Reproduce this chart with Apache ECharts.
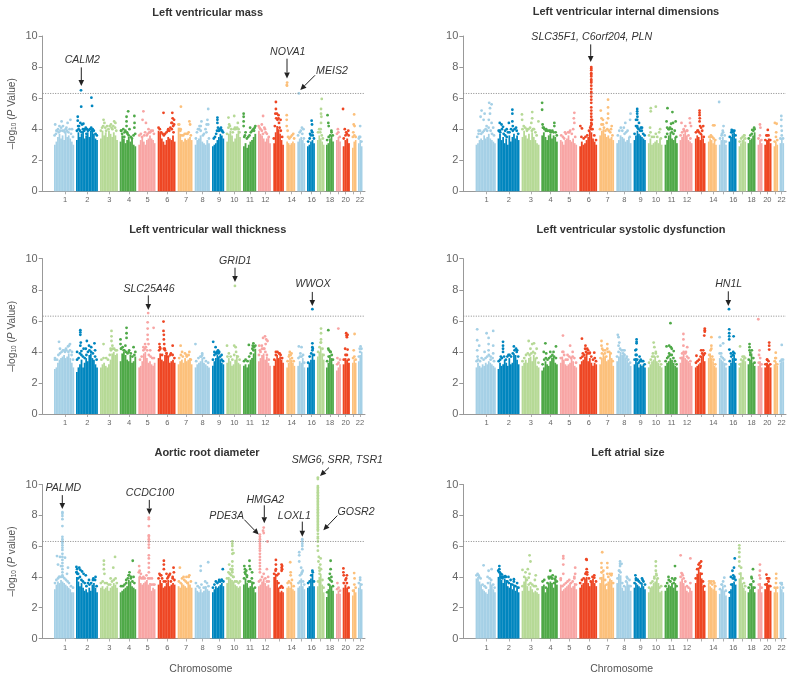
<!DOCTYPE html>
<html><head><meta charset="utf-8">
<style>html,body{margin:0;padding:0;background:#fff}#c{width:800px;height:676px}</style>
<script src="https://cdn.jsdelivr.net/npm/echarts@6/dist/echarts.min.js"></script>
</head><body><div id="c"></div>
<script>
// x unit is one horizontal step along the genome axis
const chromStart=[11.3,33.3,57.3,77,95.6,115,135,152,169.3,183.6,200.3,215.3,230.6,243.6,254.6,264.3,274.3,283.3,293.3,300,309.3,315.3];
const chromEnd=[31.3,55,75,93.3,112.6,132.6,149.6,167,181.3,198,213.3,228,241,252.3,262.3,272,281.6,291,298,307,313.6,319.6];
const chromTick=[22.3,44.6,66.6,86.3,105,124.6,143.3,160,176.3,191.6,207.3,222.6,236.6,249,259,269,278,287.3,295.6,303,310.6,317.3];
const chromLabel=['1','2','3','4','5','6','7','8','9','10','11','12','','14','','16','','18','','20','','22'];
const chromColors=['#a5d0e6','#0086bf','#b6d996','#4fa948','#f8a5a4','#ee4623','#fcc07b'];
const yTicks=[0,2,4,6,8,10];
const threshold=6.3;

const titles=['Left ventricular mass','Left ventricular internal dimensions','Left ventricular wall thickness','Left ventricular systolic dysfunction','Aortic root diameter','Left atrial size'];

const massLVM=[[3.0,3.2,3.5,3.7,3.4,3.6,3.3,3.8,3.5,3.6,3.4,3.2,3.0],[3.3,3.8,3.5,3.7,3.9,3.4,3.6,3.8,3.5,3.9,4.0,3.7,3.4,3.3],[3.4,3.9,3.6,3.8,3.5,3.9,3.7,3.5,3.8,3.6,3.3],[3.2,3.6,3.4,3.1,3.3,3.5,3.2,3.4,3.0,2.9],[3.0,3.3,3.5,3.2,3.0,3.3,3.4,3.6,3.4,3.3,3.1],[3.9,3.8,3.4,3.2,3.0,3.3,3.5,3.4,3.3,3.6,3.2],[4.1,3.7,3.3,3.2,3.4,3.3,3.4,3.5,3.3],[3.0,3.3,3.4,3.6,3.2,3.1,3.0,3.3,3.1],[2.9,3.0,3.1,3.3,3.5,3.7,3.6,3.4],[3.2,3.7,3.9,3.6,3.2,3.4,3.7,3.9,3.5],[2.9,3.1,2.8,3.0,3.2,3.3,3.5,3.7],[3.9,3.7,3.6,3.4,3.2,3.4,3.5,3.1],[3.1,3.8,4.2,4.0,3.7,3.3,3.0],[3.2,3.1,3.0,3.1,3.2,3.1],[3.2,3.4,3.5,3.3,3.1],[2.9,3.0,3.2,3.3,3.1],[3.3,3.6,3.4,3.2,3.0],[3.0,3.1,3.4,3.6,3.2],[3.3,3.5,3.2],[2.9,3.3,3.4,3.1],[2.8,3.2,3.3],[3.1,3.3,2.9]];
const dotsLVM=[[6,4.3,12,3.9,20,4.0,27,4.2,38,4.5,45,4.2,50,3.9,62,4.1,68,4.4,82,4.6,90,4.0],[8,4.8,8,4.55,10,4.2,14,4.2,20,4.4,23,6.5,24,5.45,28,4.3,34,4.35,45,4.1,50,4.0,71,6.03,74,5.5,60,3.95,77,4.0],[20,4.6,25,4.4,40,4.2,62,4.3,80,4.5,87,4.4,70,4.0],[52,5.15,42,4.8,42,4.5,42,4.2,60,4.0,90,4.85,91,4.4,90,4.1,10,3.9,30,3.8,45,3.8],[30,5.15,25,4.6,45,4.4,60,4.0,75,3.9],[33,5.05,83,5.05,85,4.7,82,4.4,88,4.2,78,4.4,93,4.6,93,4.3,60,4.0],[22,5.45,80,4.5,85,4.3,10,4.3,20,4.0],[90,5.3,85,4.6,80,4.3,90,4.3,45,4.5,40,4.2,30,4.0],[45,4.75,45,4.6,45,4.4,70,4.0,50,4.1,55,3.9,80,3.9],[15,4.75,55,4.85,80,4.4,20,4.3,60,4.1],[5,5.0,5,4.8,5,4.5,5,4.2,55,4.1,95,4.2,20,3.8,85,3.9],[40,4.85,30,4.3,50,4.1,55,4.0],[25,5.75,25,5.3,20,5.0,35,5.0,50,4.9,50,4.7,70,4.6],[5,4.9,5,4.6,5,4.2,15,3.9,10,7.0,8,6.8,6,6.85],[20,6.3,60,4.1,80,4.0],[60,4.55,65,4.3,60,3.9,70,3.8,40,3.7],[65,5.95,55,5.3,55,5.0,60,4.8,55,4.4,50,4.0],[20,4.9,30,4.4,35,4.2,70,3.9],[40,4.0],[5,5.3,30,4.0,50,3.8,80,3.9],[50,4.95,40,4.3,60,4.2,30,3.8],[50,4.2,30,3.5]];
const bandLVM=[[3,3.6,10,3.7,16,3.9,24,3.8,32,3.9,36,4.1,42,3.9,55,3.8,58,4.0,65,3.9,72,3.8,78,4.0,85,3.7,95,3.5],[4,3.9,12,4.0,18,3.9,26,3.8,32,4.0,38,3.9,42,4.0,48,3.7,55,3.9,65,4.0,70,4.1,75,3.9,82,3.9,90,3.7,96,3.6],[5,3.9,12,4.1,18,4.2,30,4.1,35,3.9,48,4.0,55,4.2,65,4.1,75,4.2,85,4.1,92,3.9],[8,3.9,15,3.7,22,4.0,28,3.5,35,3.9,48,3.7,55,3.6,68,3.5,75,3.4,85,3.6,95,3.7],[6,3.6,15,3.7,22,3.5,35,3.6,40,3.8,50,3.6,55,3.7,65,3.8,70,3.8,85,3.9,92,3.7],[5,4.1,12,4.0,20,3.8,28,3.7,35,3.6,42,3.7,50,3.8,58,3.9,66,3.9,72,4.1,80,4.0,90,3.8],[5,4.3,12,4.0,18,3.9,28,3.6,38,3.6,48,3.7,58,3.7,68,3.7,75,3.8,90,3.6],[8,3.4,15,3.8,22,4.0,32,4.2,40,3.9,55,3.6,62,3.7,72,4.0,78,3.8,95,3.4],[15,3.4,25,3.5,35,3.7,42,3.9,58,3.9,65,4.0,75,4.1,85,3.9,92,3.8],[5,3.7,15,4.1,25,4.2,35,4.0,45,3.8,55,4.0,65,4.0,75,4.1,85,4.0,92,3.8],[10,3.5,15,3.6,30,3.4,40,3.5,50,3.6,60,3.8,70,3.9,80,4.0,90,4.1],[5,4.2,12,4.1,20,4.0,30,3.9,40,3.7,60,3.8,70,3.7,85,3.5],[5,3.4,15,4.2,28,4.7,40,4.6,55,4.4,60,4.1,72,3.9,85,3.5],[20,3.5,35,3.4,50,3.5,65,3.6,80,3.7,90,3.4],[10,3.6,30,3.8,45,3.9,65,3.7,85,3.4],[15,3.2,35,3.4,50,3.6,75,3.6,90,3.4],[15,3.8,30,4.0,45,3.8,65,3.6,80,3.4],[15,3.3,35,3.5,55,3.6,72,3.8,88,3.6],[20,3.7,50,3.8,80,3.5],[15,3.4,40,3.6,60,3.7,85,3.6],[20,3.5,55,3.6,85,3.5],[20,3.4,50,3.5,80,3.2]];
const notesLVM=[['CALM2',39.6,8.44,38.6,7.98,38.6,6.78],['NOVA1',245,8.99,244.3,8.54,244.3,7.27],['MEIS2',289.3,7.77,272.3,7.47,257.6,6.52]];

const massLVID=[[3.0,3.1,3.3,3.4,3.3,3.6,3.4,3.5,3.7,3.4,3.3,3.2,3.1],[3.4,3.7,3.3,3.5,3.1,3.4,3.0,3.6,3.2,3.5,3.7,3.4,3.6,3.3],[3.5,3.9,3.6,3.4,3.7,3.3,3.8,3.5,3.3,3.1,3.0],[3.6,3.8,3.5,3.3,3.6,3.7,3.4,3.6,3.5,3.2],[3.3,3.2,3.0,3.3,3.4,3.6,3.3,3.2,3.4,3.1,3.0],[2.9,3.2,3.0,3.1,3.3,3.5,3.9,3.8,3.4,3.2,3.0],[3.6,3.9,4.0,3.7,3.5,3.6,3.4,3.5,3.3],[3.1,3.3,3.6,3.5,3.4,3.2,3.3,3.5,3.1],[3.3,3.6,3.9,3.7,3.6,3.5,3.4,3.3],[3.1,3.4,3.0,3.1,3.2,3.3,3.1,3.4,3.0],[3.0,3.3,3.6,3.8,3.4,3.3,3.5,3.1],[3.3,3.5,3.7,3.9,3.6,3.3,3.2,3.1],[3.4,3.6,3.5,3.3,3.7,3.4,3.1],[3.2,3.4,3.3,3.1,3.3,3.0],[3.0,3.3,3.5,3.3,3.0],[3.2,3.5,3.7,3.8,3.4],[2.9,3.1,3.3,3.4,3.2],[3.1,3.3,3.4,3.6,3.8],[3.0,3.3,3.1],[3.0,3.3,3.4,3.1],[2.9,3.2,3.0],[3.1,3.4,3.1]];
const dotsLVID=[[30,5.2,25,4.8,40,4.6,45,5.0,68,5.7,72,5.35,80,5.6,72,5.0,66,4.6,80,4.4,15,3.9,55,4.2,88,4.1],[10,4.4,18,4.3,25,4.15,42,4.0,52,4.4,68,5.25,68,5.0,68,4.5,70,4.2,85,4.1,35,3.9,10,3.9],[2,4.95,3,4.6,60,5.1,60,4.7,95,4.5,30,4.0,55,4.4,70,4.0],[5,5.7,5,5.25,8,4.3,15,4.1,30,4.0,80,4.2,80,4.4,55,3.9],[85,5.05,82,4.7,85,4.4,60,3.9,30,3.8,78,4.0],[6,4.2,15,4.05,68,8.0,68,7.9,68,7.8,68,7.6,68,7.5,68,7.4,68,7.2,68,7.1,68,7.0,68,6.8,68,6.6,68,6.4,68,6.3,68,6.1,68,5.9,68,5.7,68,5.4,68,5.2,68,5.0,68,4.8,68,4.6,72,4.6,68,4.4,70,4.3,66,4.2,68,4.0],[10,5.2,60,5.9,60,5.4,60,5.0,60,4.7,15,4.7,25,4.6,50,4.4,80,4.0,85,4.2],[95,5.0,92,4.6,60,4.4,50,4.1],[30,5.3,30,5.15,30,5.0,32,4.8,30,4.6,20,4.6,45,4.4,60,4.1,70,4.1,30,4.2],[20,5.35,20,5.15,55,5.45,85,4.0,15,4.1],[22,5.35,60,5.1,15,4.5,65,4.4,50,4.35,85,4.5,20,4.1,35,4.0,55,4.0],[15,4.4,80,4.7,82,4.4,60,3.9,90,4.2,35,3.9],[45,5.2,45,5.05,45,4.9,47,4.7,45,4.5,50,4.2,60,4.1,80,4.2,30,3.9],[60,4.25,75,4.25,30,3.5],[3,5.75,60,4.2,50,3.9,40,3.7],[40,3.95,50,3.8],[80,3.6],[60,3.95,85,4.1],[50,4.3,60,4.1],[50,3.95,30,3.6],[30,4.4,70,4.35,60,3.8],[40,4.85,40,4.6,40,4.2,50,3.9]];
const bandLVID=[[8,3.5,15,3.7,22,3.9,28,3.7,35,3.8,42,3.9,50,4.0,58,3.9,65,4.1,75,3.9,82,3.7,92,3.6],[5,3.9,12,3.8,20,4.0,28,3.7,35,3.6,42,3.5,48,3.8,55,3.8,62,4.0,70,3.9,78,4.0,88,3.9,95,3.7],[5,4.0,12,4.2,20,4.1,30,3.9,38,4.0,48,4.1,58,3.9,65,4.0,78,3.8,85,3.6],[10,4.1,20,4.0,28,3.9,38,3.9,48,3.9,58,3.8,68,3.9,75,3.8,88,3.8,95,3.6],[8,3.6,18,3.5,25,3.4,35,3.7,48,3.8,55,3.8,70,3.7,90,3.5],[12,3.5,25,3.4,35,3.5,45,3.6,55,3.9,62,4.1,75,4.0,85,3.6,95,3.3],[5,4.0,15,4.3,25,4.3,32,4.1,42,3.9,55,4.0,65,3.9,75,3.8,90,3.6],[10,3.6,20,3.9,30,4.1,40,3.9,55,3.7,65,3.8,75,3.9,90,3.5],[8,3.7,20,4.2,32,4.1,42,4.0,55,3.9,68,3.9,80,3.7,92,3.6],[8,3.6,18,3.8,28,3.5,42,3.5,55,3.7,65,3.5,78,3.8,90,3.4],[8,3.5,20,3.7,30,4.0,42,4.1,55,3.8,68,3.7,78,3.9,90,3.5],[8,3.6,20,3.8,32,4.0,45,4.2,58,3.9,70,3.6,85,3.4],[10,3.8,25,3.9,40,3.8,55,3.7,70,3.9,85,3.5],[15,3.5,35,3.6,50,3.5,65,3.4,85,3.3],[15,3.4,35,3.6,55,3.8,75,3.6,90,3.2],[15,3.5,35,3.8,55,3.9,75,3.9,90,3.6],[15,3.2,35,3.4,55,3.5,75,3.6,90,3.4],[15,3.4,35,3.6,55,3.7,75,3.9,90,4.0],[20,3.4,50,3.6,80,3.3],[15,3.3,40,3.6,60,3.6,85,3.3],[25,3.2,55,3.5,85,3.3],[20,3.4,50,3.6,80,3.4]];
const notesLVID=[['SLC35F1, C6orf204, PLN',127.4,9.92,126.4,9.46,126.4,8.33]];

const massLVWT=[[2.9,3.0,3.3,3.5,3.6,3.7,3.8,3.6,3.7,3.9,3.6,3.3,3.0],[2.7,3.0,3.2,3.5,3.0,3.3,3.6,3.4,3.8,3.9,3.6,3.5,3.2,3.0],[3.0,3.2,3.3,3.1,3.0,3.2,3.5,3.9,4.0,3.8,3.9],[3.4,3.9,4.0,3.8,3.5,3.4,3.8,3.3,3.4,3.7],[3.0,3.1,3.4,3.9,4.0,3.6,3.3,3.4,3.2,3.1,3.3],[3.6,3.9,3.5,3.4,3.8,4.0,3.7,3.3,3.4,3.5,3.3],[3.2,3.4,3.5,3.3,3.6,3.4,3.5,3.6,3.2],[3.0,3.2,3.3,3.4,3.6,3.3,3.2,3.1,3.0],[3.1,3.4,3.6,3.8,3.7,3.5,3.3,3.2],[3.3,3.6,3.4,3.1,3.2,3.5,3.8,3.3,3.2],[3.1,3.2,3.0,3.2,3.5,3.6,3.9,4.2],[3.4,3.6,3.8,3.9,3.5,3.7,3.3,3.1],[3.1,3.5,3.8,3.6,3.7,3.5,3.3],[3.0,3.3,3.6,3.5,3.3,3.1],[3.1,3.4,3.3,3.6,3.0],[3.0,3.3,3.5,3.9,3.5],[3.7,4.0,4.3,3.9,3.5],[3.0,3.3,3.8,3.6,3.2],[2.8,3.0,3.2],[3.2,3.6,3.5,3.3],[3.3,3.5,3.3],[3.4,3.8,4.0]];
const dotsLVWT=[[25,4.65,30,4.2,60,4.2,70,4.35,75,4.4,80,4.5,90,4.0,5,3.6,50,4.1],[20,5.4,20,5.25,20,5.1,22,4.6,20,4.4,5,4.0,25,4.05,45,4.2,50,4.7,60,4.4,70,4.3,85,4.55,88,4.1,35,4.2],[20,4.5,65,5.35,65,5.0,65,4.7,70,4.4,60,4.2],[42,5.55,42,5.2,42,4.9,5,4.8,5,4.5,35,4.4,10,4.2,25,4.1,85,4.3,55,4.0],[58,6.5,55,5.9,55,5.5,55,5.1,55,4.8,90,5.55,40,4.5,30,4.3,60,4.5,70,4.1],[33,5.95,33,5.35,35,5.1,35,4.8,37,4.5,10,4.5,12,4.3,85,4.4,40,4.2,75,3.9],[20,4.4,30,4.0,80,4.0,60,3.8],[5,4.5,50,3.9,45,3.7],[10,4.65,30,4.3,20,4.0,50,4.1,40,3.9,60,4.0,80,3.8],[5,4.4,55,4.4,65,4.3,60,8.25],[45,4.45,80,4.55,75,4.4,82,4.35,80,4.1],[10,4.4,40,4.9,55,5.0,65,4.8,75,4.7,30,4.4,50,4.2,60,4.5,15,4.1],[25,4.0,60,3.9],[30,3.7,40,4.0,60,3.9],[20,4.35,55,4.3,40,3.9],[70,4.55,70,4.3,70,4.1,70,6.75],[55,5.5,55,5.2,55,4.8,50,4.6],[30,5.4,30,4.2,40,4.1,60,4.0],[50,5.5,30,3.6],[50,5.2,55,5.05,60,4.95,70,5.1,35,4.2,70,4.15],[60,5.15,40,4.1],[60,4.35,40,4.2]];
const bandLVWT=[[5,3.5,15,3.5,22,3.8,30,3.9,38,4.0,45,4.1,55,4.0,62,4.1,72,4.0,80,4.1,88,3.8,95,3.5],[5,3.5,12,3.6,18,3.9,25,3.8,32,3.7,40,3.6,48,3.8,55,4.0,62,4.1,70,4.0,78,3.9,88,3.7,95,3.5],[8,3.5,20,3.6,35,3.6,45,3.5,55,3.8,62,4.1,72,4.2,80,4.2,88,4.1,95,4.1],[8,4.2,18,4.3,28,4.1,38,4.0,48,3.9,58,4.1,68,3.9,78,3.7,90,3.8,96,4.0],[10,3.5,20,3.7,30,4.1,38,4.2,45,4.3,52,4.1,62,3.8,72,3.7,82,3.6,92,3.6],[8,4.1,15,4.2,25,3.8,35,4.2,42,4.1,50,3.9,60,3.7,72,3.8,85,3.8,95,3.6],[10,3.6,22,3.8,35,3.7,50,3.9,62,3.7,75,3.8,90,3.5],[10,3.4,25,3.6,38,3.7,50,3.8,62,3.6,75,3.4,90,3.3],[8,3.5,20,3.8,32,3.9,42,4.0,55,3.9,68,3.7,80,3.5,92,3.4],[8,3.7,18,3.9,30,3.7,42,3.5,55,3.8,68,4.0,80,3.7,92,3.5],[8,3.4,20,3.5,35,3.4,48,3.7,60,3.9,72,4.2,85,4.3,95,4.4],[8,3.8,20,4.0,32,4.2,45,4.2,58,4.0,70,3.8,85,3.5],[10,3.5,25,3.8,40,4.0,55,3.9,70,3.8,85,3.6],[15,3.4,35,3.8,50,3.8,65,3.6,85,3.4],[15,3.6,35,3.7,55,3.7,75,3.8,90,3.3],[15,3.3,35,3.7,55,3.9,75,4.2,90,3.8],[15,4.0,35,4.3,55,4.6,75,4.2,90,3.8],[15,3.4,35,3.7,55,4.0,75,3.8,90,3.5],[25,3.2,55,3.3,85,3.5],[15,3.5,40,3.8,60,3.8,85,3.5],[25,3.6,55,3.7,85,3.5],[20,3.7,50,4.0,80,4.2]];
const notesLVWT=[['SLC25A46',106.3,8.05,105.6,7.64,105.6,6.7],['GRID1',192.6,9.87,192.3,9.42,192.3,8.5],['WWOX',270.3,8.35,269.6,7.86,269.6,6.95]];

const massLVSD=[[3.0,3.3,3.1,3.0,3.2,3.1,3.3,3.2,3.4,3.3,3.2,3.1,3.0],[2.9,3.3,3.1,3.2,3.5,3.3,3.1,3.6,3.2,3.3,3.9,3.8,3.5,3.2],[3.1,3.3,3.5,3.3,3.6,3.7,3.4,3.8,3.6,3.1,3.0],[2.8,3.0,3.4,3.2,3.1,3.4,3.6,3.7,3.3,3.2],[3.3,3.7,3.5,3.2,3.1,3.2,3.3,3.6,3.4,3.1,3.0],[3.2,3.4,3.5,3.7,3.9,3.4,3.6,3.3,3.1,3.3,3.2],[3.2,3.6,3.9,3.7,3.4,3.5,3.9,3.6,3.1],[3.4,3.7,4.0,3.8,3.9,3.6,3.5,3.3,3.1],[3.2,3.6,3.3,3.0,3.2,3.1,3.2,3.0],[3.0,3.2,3.4,3.5,3.7,3.4,3.3,3.1,3.0],[3.1,3.3,3.4,3.6,3.5,3.3,3.1,3.0],[3.3,3.7,3.9,3.6,3.5,3.4,3.3,3.1],[3.0,3.1,3.2,3.3,3.7,3.9,3.4],[3.6,3.9,3.6,3.4,3.1,3.0],[3.6,3.5,3.4,3.3,3.0],[3.1,3.3,3.6,3.8,3.3],[3.0,3.3,3.5,3.6,3.4],[3.2,3.5,3.9,3.3,3.1],[3.1,3.4,3.0],[3.0,3.3,3.2,3.0],[3.2,3.4,3.1],[3.3,3.4,3.4]];
const dotsLVSD=[[8,5.45,8,4.75,8,4.1,10,3.7,18,4.4,55,5.2,65,4.9,65,4.5,65,4.1,88,5.35,88,4.4,88,3.9,45,4.0,75,3.7],[25,4.65,25,4.4,25,4.2,25,4.0,75,4.35,85,4.2,90,4.1,15,3.7,50,3.8],[40,4.7,60,4.5,70,4.55,50,4.2,85,4.2],[25,4.55,15,4.0,30,3.9,55,4.0,75,4.0,90,4.35],[18,5.05,60,4.4,45,3.8,75,4.0,20,4.0],[15,4.85,35,4.4,33,4.2,45,4.2,50,4.1,60,3.95,85,3.95,20,3.9],[15,4.7,15,4.4,55,4.5,55,4.2,20,4.2,40,4.1],[10,5.1,15,4.95,20,4.6,15,4.4,45,4.1,55,4.1,70,3.7],[25,4.8,25,4.65,25,4.55,15,4.1,22,4.15,25,3.8,60,3.5,50,3.7],[40,4.6,45,4.3,55,4.0,35,3.9],[45,5.85,15,4.35,35,4.4,48,4.3,55,4.2,70,4.05,35,3.9],[30,5.15,30,4.8,30,4.4,60,4.3,50,4.0],[95,5.5,95,5.4,95,5.3,90,5.05,60,4.1,80,4.1,15,3.75],[40,4.95,40,4.4,40,4.2],[10,4.95,20,4.4,55,4.55,30,3.9],[8,5.45,8,5.2,8,5.0,8,4.8,65,5.0,10,4.15,30,3.9,60,4.0,5,6.75],[20,4.35],[25,4.5,25,4.3,25,4.1,35,3.95],[15,6.1,40,4.1,30,3.8],[70,4.6,70,4.4,70,4.15,40,3.5],[50,3.95,40,3.6],[50,4.45]];
const bandLVSD=[[5,3.4,12,3.5,22,3.4,30,3.6,40,3.5,50,3.6,58,3.7,66,3.8,75,3.5,85,3.6,92,3.4],[5,3.4,12,3.5,20,3.6,30,3.7,38,3.5,45,3.7,55,3.8,62,3.7,70,3.9,78,4.1,88,4.0,95,3.7],[5,3.4,15,3.6,25,3.8,35,3.9,45,3.8,55,3.9,65,4.0,75,3.9,85,3.6,95,3.3],[8,3.2,18,3.5,28,3.6,38,3.5,48,3.6,58,3.7,68,3.8,78,3.7,90,3.6],[5,3.6,15,4.0,25,3.8,35,3.5,45,3.5,55,3.7,65,3.6,75,3.7,85,3.6,95,3.3],[8,3.6,18,3.7,28,3.8,38,4.0,48,3.9,58,3.9,68,3.7,78,3.5,88,3.6,95,3.4],[8,3.6,18,3.9,28,4.1,38,3.9,48,3.7,58,4.0,68,4.0,78,3.9,92,3.4],[5,3.7,15,4.0,25,4.2,35,4.1,45,3.9,55,3.8,68,3.6,80,3.5,92,3.3],[8,3.5,18,3.8,30,3.5,42,3.3,55,3.4,68,3.4,80,3.4,92,3.2],[8,3.3,20,3.5,30,3.7,42,3.7,55,3.9,68,3.7,80,3.4,92,3.2],[8,3.4,20,3.6,30,3.7,42,3.8,55,3.8,68,3.6,80,3.4,92,3.2],[8,3.6,20,3.9,32,4.0,45,3.9,58,3.7,70,3.6,85,3.4],[10,3.3,25,3.4,40,3.5,55,3.7,70,3.9,85,3.8,95,3.9],[15,3.8,30,4.1,50,3.7,65,3.5,85,3.2],[10,3.9,30,3.7,50,3.6,70,3.5,90,3.2],[15,3.4,35,3.7,55,3.8,75,3.9,90,3.5],[15,3.2,35,3.5,55,3.7,75,3.7,90,3.6],[15,3.5,35,3.8,55,4.1,75,3.6,90,3.3],[25,3.3,55,3.6,85,3.2],[15,3.2,40,3.5,60,3.4,85,3.2],[25,3.4,55,3.6,85,3.2],[20,3.4,50,3.5,80,3.5]];
const notesLVSD=[['HN1L',264.4,8.35,264,7.9,264,6.95]];

const massARD=[[3.2,3.5,3.7,3.6,3.8,3.7,3.6,3.5,3.4,3.3,3.2,3.0,3.0],[4.0,3.7,3.4,3.6,3.3,3.1,3.2,3.0,3.3,3.1,3.5,3.6,3.3,3.0],[3.3,3.4,3.2,3.3,3.4,3.1,3.3,3.4,3.6,3.5,3.3],[3.0,3.1,3.2,3.3,3.4,3.8,3.7,3.4,3.3,3.2],[4.0,3.6,3.5,3.6,3.7,3.8,3.5,3.6,3.1,3.3,3.2],[3.5,3.8,3.6,3.3,3.4,3.6,3.8,3.4,3.5,3.6,3.5],[3.4,3.3,3.6,3.5,3.4,3.3,3.7,3.5,3.3],[3.3,3.1,3.0,3.2,3.0,3.1,3.4,3.2,3.1],[3.0,3.2,3.4,3.3,3.4,3.5,3.6,3.4],[3.6,4.0,3.9,3.8,3.7,3.5,3.4,3.3,3.4],[3.5,3.9,3.6,3.3,3.4,3.7,3.3,3.0],[3.4,3.5,3.7,3.9,3.6,3.4,3.5,3.3],[4.0,4.2,3.8,3.3,3.0,3.1,3.0],[3.3,3.4,3.3,3.6,3.2,3.1],[3.3,3.4,3.9,3.4,3.2],[3.3,3.4,3.9,4.2,3.4],[3.4,4.0,4.2,3.5,3.0],[2.7,3.2,3.5,3.4,3.1],[2.9,3.1,2.9],[3.3,3.5,3.3,3.0],[2.8,3.2,3.0],[3.3,3.6,3.2]];
const dotsARD=[[42,8.2,42,8.1,42,7.95,42,7.75,42,7.3,42,6.6,42,6.45,42,6.3,42,6.2,42,6.05,42,5.9,42,5.75,42,5.5,42,5.3,42,5.1,42,4.9,42,4.7,42,4.5,42,4.3,42,4.1,15,5.35,30,5.3,55,5.25,20,4.8,35,4.7,70,4.6,65,4.2,25,4.0],[2,4.65,5,4.5,15,4.6,20,4.45,28,4.35,10,4.2,35,4.2,45,4.1,3,4.3,60,3.8,80,3.9,90,4.0],[22,5.05,22,4.8,22,4.5,25,4.2,85,5.3,75,4.6,60,3.9],[80,5.05,60,4.3,55,4.1,85,4.0,40,3.8,70,4.0],[62,7.85,62,7.75,62,7.3,62,6.7,62,6.6,62,6.45,62,6.3,62,6.1,62,5.9,62,5.4,62,5.2,62,4.9,62,4.6,62,4.3,5,4.7,8,4.4,15,4.2,30,4.0,80,3.9],[35,5.05,35,4.8,35,4.5,10,4.2,20,4.1,50,4.2,60,4.0,70,4.2,90,4.6,92,4.3,85,4.0],[15,4.6,40,4.0,60,4.0,80,4.1],[40,4.7,40,4.4,90,4.95,70,3.7],[90,4.5,60,3.8,80,3.8],[42,6.3,42,6.15,42,6.0,42,5.75,42,5.5,50,5.55,42,5.0,42,4.7,42,4.5,42,4.3,20,4.8,40,4.4,30,4.5,25,4.2,50,4.0],[10,4.7,15,4.5,15,4.3,25,4.4,50,5.05,50,4.7,55,4.5,70,4.3,30,4.1],[15,6.75,15,6.6,15,6.45,15,6.3,15,6.15,15,6.0,15,5.85,15,5.7,15,5.5,15,5.3,15,5.1,15,4.9,15,4.7,15,4.5,15,4.3,45,7.2,40,7.0,45,6.85,75,6.3,70,4.5,80,4.0],[25,5.1,25,4.8,25,4.5,80,4.8,80,4.6,80,4.4,85,4.7,85,4.5,50,4.2],[45,4.95,50,4.3,50,4.1],[65,6.45,65,6.3,65,6.15,65,6.0,65,5.8,25,5.6,25,5.4,25,5.0,50,4.6,60,4.3,35,4.1,70,4.4],[70,4.4],[12,10.45,12,10.35,12,9.9,12,9.8,12,9.7,12,9.6,12,9.5,12,9.4,12,9.3,12,9.2,12,9.1,12,9.0,12,8.9,12,8.8,12,8.7,12,8.6,12,8.5,12,8.4,12,8.3,12,8.2,12,8.1,12,8.0,12,7.9,12,7.8,12,7.7,12,7.6,12,7.5,12,7.4,12,7.3,12,7.2,12,7.1,12,7.0,12,6.8,12,6.6,12,6.5,12,6.3,12,6.0,12,5.7,50,5.2,25,5.3,20,5.0,45,4.8,30,4.6,35,4.4],[60,5.05,60,4.5,50,4.2,70,4.0,40,3.9],[30,3.6],[10,4.55,10,4.3,15,4.1,60,4.1,50,3.9],[50,4.25,60,3.9],[50,3.95]];
const bandARD=[[5,3.6,12,3.8,20,3.9,28,4.0,35,4.0,45,4.0,52,3.9,60,3.8,68,3.7,75,3.6,85,3.4,95,3.3],[2,4.3,6,4.2,10,3.9,18,4.0,25,3.8,32,3.7,40,3.6,48,3.4,55,3.6,62,3.5,70,3.6,78,3.8,88,3.8,95,3.4],[5,3.6,15,3.7,28,3.6,38,3.6,48,3.5,58,3.5,68,3.7,78,3.8,88,3.9,95,3.6],[8,3.4,20,3.4,30,3.5,40,3.6,50,3.9,58,4.1,68,3.9,78,3.7,90,3.6],[3,4.3,10,4.0,18,3.9,28,3.9,38,3.9,48,4.1,58,3.9,68,3.9,78,3.5,88,3.5,95,3.5],[5,3.9,15,4.1,25,3.9,35,3.7,45,3.7,55,3.9,65,4.1,75,3.7,85,3.9,95,3.8],[8,3.7,20,3.6,30,3.9,45,3.8,55,3.7,65,3.6,75,4.0,90,3.7],[8,3.6,20,3.4,32,3.3,45,3.5,60,3.3,72,3.3,82,3.6,92,3.4],[8,3.3,20,3.5,32,3.7,45,3.6,58,3.7,70,3.7,82,3.8,95,3.7],[5,3.9,15,4.3,25,4.2,35,4.1,48,4.0,60,3.7,72,3.7,85,3.6,95,3.7],[8,3.9,18,4.2,30,4.0,42,3.7,55,3.7,68,3.9,80,3.6,92,3.3],[8,3.7,20,3.8,32,4.0,45,4.2,58,3.9,70,3.7,85,3.7],[8,4.2,22,4.4,35,4.1,50,3.6,65,3.3,78,3.4,90,3.3],[15,3.6,30,3.7,50,3.6,65,3.8,85,3.4],[15,3.6,35,3.7,55,4.2,75,3.7,90,3.5],[15,3.6,35,3.7,55,4.1,75,4.3,90,3.7],[15,3.7,35,4.2,55,4.5,75,3.8,90,3.3],[15,3.0,35,3.5,55,3.8,75,3.7,90,3.4],[25,3.2,55,3.3,85,3.1],[15,3.6,40,3.8,60,3.6,85,3.3],[25,3.1,55,3.5,85,3.3],[20,3.6,50,3.8,80,3.5]];
const notesARD=[['PALMD',20.6,9.74,19.6,9.31,19.6,8.41],['CCDC100',107.3,9.46,106.6,9.0,106.6,8.06],['HMGA2',222.6,8.99,221.6,8.65,221.6,7.48],['PDE3A',184,7.98,201.6,7.72,216,6.75],['LOXL1',251.6,7.98,259.6,7.59,259.6,6.6],['GOSR2',313.3,8.19,294.6,7.98,280.6,7.03],['SMG6, SRR, TSR1',294.6,11.61,286.3,11.1,277.3,10.56]];

const massLAS=[[3.9,4.0,3.7,3.5,3.2,3.1,3.0,2.9,3.2,3.7,3.5,3.2,3.0],[4.0,4.2,3.8,3.6,3.9,3.8,3.4,3.3,3.6,3.2,3.5,3.1,3.4,3.0],[3.1,3.7,4.0,3.4,3.1,3.4,3.2,3.0,3.1,3.0,2.9],[3.4,3.5,3.0,3.3,3.6,3.7,3.6,3.3,3.8,3.5],[3.5,3.1,3.2,3.3,3.4,3.5,3.6,3.3,3.4,3.6,3.2],[3.3,3.5,3.6,3.9,4.0,3.6,3.4,3.7,3.9,3.6,3.4],[3.6,4.0,4.2,3.5,3.2,3.7,3.9,3.8,3.3],[3.6,4.2,4.1,3.3,3.1,3.4,3.7,3.5,3.1],[3.3,3.6,3.5,3.4,3.3,3.6,3.4,3.2],[3.0,3.3,3.4,3.6,3.7,3.9,3.6,3.0,3.1],[3.1,3.3,3.5,3.4,3.6,3.3,3.6,3.1],[3.7,3.9,3.6,3.4,3.1,3.0,3.3,3.1],[3.6,4.2,4.6,4.3,3.9,3.4,3.1],[3.6,3.4,3.3,3.2,3.5,3.1],[2.9,3.2,3.4,3.1,2.8],[2.7,3.2,3.6,3.7,3.5],[3.9,4.3,3.6,3.3,3.1],[3.0,3.2,3.6,3.4,3.0],[3.2,3.6,3.0],[3.2,3.6,3.5,3.1],[3.0,3.3,3.0],[3.4,3.2,3.0]];
const dotsLAS=[[40,4.75,65,4.4,80,4.5,15,4.1,60,4.0],[8,4.7,8,4.5,10,4.3,20,4.15,25,4.0,35,4.05,50,4.0,75,3.85,15,4.0],[5,4.45,45,5.4,50,5.0,35,4.5,45,4.2,40,3.95,80,4.1,75,3.8],[55,4.4,45,4.0,70,4.1,65,3.9,85,3.85],[20,5.35,20,5.2,20,4.8,20,4.2,90,4.6,90,4.2,85,4.0,5,3.9],[40,5.15,42,5.1,42,4.5,40,4.3,45,4.15,85,3.95],[20,5.6,15,4.9,15,4.6,15,4.3,55,4.9,55,4.6,55,4.2,85,4.2],[25,5.0,25,4.85,25,4.7,35,4.85,20,4.4,70,4.0],[15,4.1,20,3.9,35,3.8,75,3.8],[55,5.0,55,4.7,55,4.4,60,4.1,45,4.0],[30,4.0,80,4.7,75,3.8],[8,5.4,85,5.2,15,4.25,25,4.1],[60,5.0,45,4.9,55,4.7],[20,3.7,40,3.7,75,3.6],[70,3.95,40,3.5],[80,5.2,70,4.6,50,4.4,60,4.1,30,4.0,70,3.9],[10,6.05,10,5.85,10,5.6,10,5.3,10,5.0,10,4.7],[70,4.5,50,4.0],[50,4.8,50,4.4,40,4.1],[30,4.15,50,3.9,70,3.9],[60,4.2,60,3.9],[50,3.6]];
const bandLAS=[[4,4.1,10,4.2,18,4.0,25,3.9,35,3.5,45,3.4,52,3.3,62,3.6,70,3.9,78,3.8,88,3.5,95,3.3],[3,4.4,8,4.3,15,4.2,22,3.9,30,4.0,38,4.0,45,3.7,52,3.6,60,3.8,68,3.5,75,3.7,82,3.4,90,3.6,96,3.3],[5,3.4,15,4.0,22,4.3,30,3.8,40,3.5,50,3.6,60,3.5,70,3.4,80,3.4,90,3.2],[8,3.7,18,3.8,28,3.3,38,3.6,48,3.9,58,4.0,68,3.9,78,3.6,88,4.0,95,3.7],[5,3.8,15,3.4,25,3.5,35,3.6,45,3.7,55,3.8,65,3.6,75,3.7,85,3.9,95,3.5],[5,3.6,15,3.8,25,3.9,35,4.2,45,4.3,55,3.9,65,3.7,75,4.0,85,4.1,95,3.7],[8,3.9,18,4.3,28,4.4,40,3.8,50,3.5,62,4.0,72,4.2,82,4.1,95,3.6],[8,3.9,18,4.4,28,4.3,40,3.6,52,3.4,65,3.7,75,3.9,88,3.8,95,3.4],[8,3.6,20,3.8,32,3.8,45,3.7,58,3.6,70,3.9,82,3.7,95,3.5],[8,3.3,20,3.6,32,3.7,45,3.9,58,4.2,68,3.9,80,3.3,92,3.4],[8,3.4,20,3.6,32,3.8,45,3.7,58,3.9,70,3.6,82,3.9,92,3.4],[8,4.0,20,4.2,32,3.9,45,3.7,58,3.4,70,3.3,85,3.6],[8,3.9,22,4.5,35,4.8,50,4.6,65,4.2,78,3.7,90,3.4],[15,3.7,30,3.6,50,3.5,65,3.7,85,3.4],[15,3.2,35,3.5,55,3.7,75,3.4,90,3.1],[15,3.0,35,3.5,55,3.9,75,4.0,90,3.8],[15,4.2,35,4.6,55,3.9,75,3.6,90,3.4],[15,3.3,35,3.5,55,3.9,75,3.7,90,3.3],[25,3.5,55,3.9,85,3.3],[15,3.5,40,3.9,60,3.7,85,3.4],[25,3.3,55,3.6,85,3.3],[20,3.6,50,3.5,80,3.3]];
const notesLAS=[];

const panels=[
 {mass:massLVM,dots:dotsLVM,band:bandLVM,notes:notesLVM},
 {mass:massLVID,dots:dotsLVID,band:bandLVID,notes:notesLVID},
 {mass:massLVWT,dots:dotsLVWT,band:bandLVWT,notes:notesLVWT},
 {mass:massLVSD,dots:dotsLVSD,band:bandLVSD,notes:notesLVSD},
 {mass:massARD,dots:dotsARD,band:bandARD,notes:notesARD},
 {mass:massLAS,dots:dotsLAS,band:bandLAS,notes:notesLAS}
];
const FONT='"Liberation Sans",Arial,sans-serif';
const rowTop=[36,258.7,484.5], colLeft=[42.7,463.3];
const titleX=[202.7,621,202.7,626,202,623], titleY=[2,1.5,219,219,442,442];

const opt={animation:false,backgroundColor:'#fff',textStyle:{fontFamily:FONT},title:[],grid:[],xAxis:[],yAxis:[],series:[]};
panels.forEach((p,i)=>{
  const col=i%2,row=Math.floor(i/2);
  const xMin=col?-1:0,xMax=col?321.7:322.3;
  opt.title.push({text:titles[i],left:titleX[i],top:titleY[i],textAlign:'center',
    textStyle:{fontFamily:FONT,fontSize:11,fontWeight:'bold',color:'#333'}});
  opt.grid.push({left:colLeft[col],top:rowTop[row],width:col?322.7:322.3,height:155.3,containLabel:false});
  opt.xAxis.push({type:'value',gridIndex:i,min:xMin,max:xMax,splitLine:{show:false},
    name:row===2?'Chromosome':'',nameLocation:'middle',nameGap:25.5,
    nameTextStyle:{fontFamily:FONT,fontSize:10.5,color:'#555',padding:[0,6,0,0]},
    axisLine:{onZero:false,lineStyle:{color:'#999',width:1}},
    axisTick:{length:3,customValues:chromTick,lineStyle:{color:'#999',width:0.8}},
    axisLabel:{customValues:chromTick.filter((t,k)=>chromLabel[k]!==''),margin:5,fontFamily:FONT,fontSize:7.5,color:'#666',
      formatter:v=>chromLabel[chromTick.indexOf(v)]}});
  opt.yAxis.push({type:'value',gridIndex:i,min:0,max:10,interval:2,splitLine:{show:false},
    name:col?'':(row===2?'{n|–log}{s|10}{n| (}{i|P}{n| value)}':'{n|–log}{s|10}{n| (}{i|P}{n| Value)}'),
    nameLocation:'middle',nameGap:25,nameRotate:90,
    nameTextStyle:{rich:{n:{fontFamily:FONT,fontSize:10.2,color:'#555'},i:{fontFamily:FONT,fontSize:10.2,fontStyle:'italic',color:'#555'},s:{fontFamily:FONT,fontSize:6.5,color:'#555',verticalAlign:'bottom',padding:[4,0,0,0]}}},
    axisLine:{show:true,onZero:false,lineStyle:{color:'#999',width:1}},
    axisTick:{show:true,length:4,lineStyle:{color:'#999',width:1}},
    axisLabel:{margin:5,fontFamily:FONT,fontSize:11,color:'#666'}});
  // solid body of each chromosome
  const mass=[];
  p.mass.forEach((tops,c)=>{
    const w=(chromEnd[c]-chromStart[c])/tops.length;
    tops.forEach((t,k)=>mass.push([chromStart[c]+k*w,chromStart[c]+(k+1)*w,t,c]));
  });
  opt.series.push({type:'custom',xAxisIndex:i,yAxisIndex:i,silent:true,data:mass,encode:{x:[0,1],y:2},
    renderItem:(params,api)=>{
      const a=api.coord([api.value(0),api.value(2)]),b=api.coord([api.value(1),0]);
      return {type:'rect',shape:{x:a[0],y:a[1],width:b[0]-a[0]+0.2,height:b[1]-a[1]},
        style:{fill:chromColors[api.value(3)%7]}};
    }});
  // individual SNP dots
  const dots=[];
  [p.band,p.dots].forEach(src=>src.forEach((list,c)=>{
    for(let k=0;k<list.length;k+=2)
      dots.push([chromStart[c]+(chromEnd[c]-chromStart[c])*list[k]/100,list[k+1],c]);
  }));
  opt.series.push({type:'scatter',xAxisIndex:i,yAxisIndex:i,silent:true,clip:false,symbolSize:2.8,data:dots,
    itemStyle:{opacity:1,color:pr=>chromColors[pr.value[2]%7]}});
  // genome-wide significance line
  opt.series.push({type:'line',xAxisIndex:i,yAxisIndex:i,silent:true,showSymbol:false,data:[[xMin,threshold],[xMax,threshold]],
    lineStyle:{color:'#888',width:1,type:[1,1.5]}});
  // gene annotations
  if(p.notes.length) opt.series.push({type:'custom',xAxisIndex:i,yAxisIndex:i,silent:true,z:5,
    data:p.notes.map(n=>n.slice(1)),encode:{x:[0,2,4],y:[1,3,5]},
    renderItem:(params,api)=>{
      const n=p.notes[params.dataIndex];
      const t=api.coord([n[1],n[2]]),a=api.coord([n[3],n[4]]),b=api.coord([n[5],n[6]]);
      const dx=b[0]-a[0],dy=b[1]-a[1],L=Math.hypot(dx,dy),ux=dx/L,uy=dy/L,h=6,w=2.8;
      const bx=b[0]-ux*h,by=b[1]-uy*h;
      return {type:'group',children:[
        {type:'line',shape:{x1:a[0],y1:a[1],x2:bx,y2:by},style:{stroke:'#222',lineWidth:1}},
        {type:'polygon',shape:{points:[[b[0],b[1]],[bx-uy*w,by+ux*w],[bx+uy*w,by-ux*w]]},style:{fill:'#222'}},
        {type:'text',style:{text:n[0],x:t[0],y:t[1],align:'center',verticalAlign:'middle',
          font:'italic 10.6px '+FONT,fill:'#333'}}
      ]};
    }});
});
const chart=echarts.init(document.getElementById('c'),null,{renderer:'canvas'});
chart.setOption(opt);
</script></body></html>
